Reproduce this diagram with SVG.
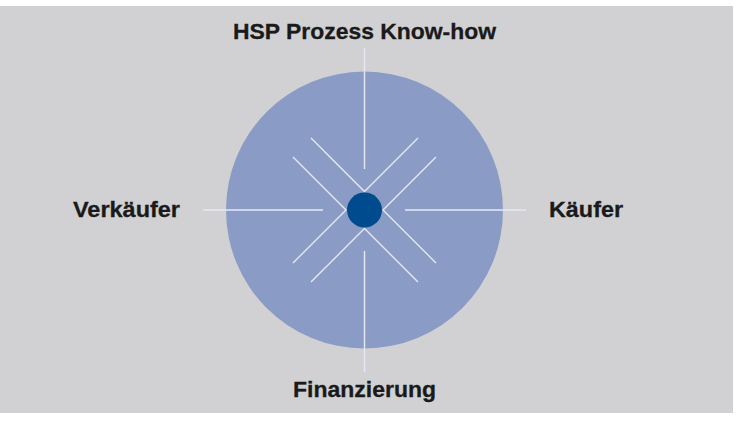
<svg xmlns="http://www.w3.org/2000/svg" width="745" height="425" viewBox="0 0 745 425">
<style>
.lbl{font-family:"Liberation Sans",Arial,sans-serif;font-weight:bold;font-size:21.5px;fill:#1a1a1a;stroke:#1a1a1a;stroke-width:0.3}
.ln{stroke:#e6e9f2;stroke-width:1.4;fill:none}
</style>
<rect x="0" y="0" width="745" height="425" fill="#ffffff"/>
<rect x="0" y="6" width="733" height="407" fill="#d1d1d3"/>
<g id="circle"><circle cx="364.5" cy="210" r="138.5" fill="#8a9bc6"/></g>
<g id="connectors">
<line class="ln" x1="364.5" y1="48" x2="364.5" y2="169"/>
<line class="ln" x1="364.5" y1="251" x2="364.5" y2="372"/>
<line class="ln" x1="203" y1="210" x2="323" y2="210"/>
<line class="ln" x1="405" y1="210" x2="526" y2="210"/>
<polyline class="ln" points="311,138 364.5,191.5 418,138"/>
<polyline class="ln" points="311,282 364.5,228.5 418,282"/>
<polyline class="ln" points="293,157 346,210 293,263"/>
<polyline class="ln" points="436,157 383,210 436,263"/>
</g>
<g id="center"><circle cx="364.5" cy="210" r="17.5" fill="#004b8d"/></g>
<g id="top"><text class="lbl" x="364.5" y="38.5" text-anchor="middle" textLength="263" lengthAdjust="spacingAndGlyphs">HSP Prozess Know-how</text></g>
<g id="left"><text class="lbl" x="73" y="217" textLength="107" lengthAdjust="spacingAndGlyphs">Verkäufer</text></g>
<g id="right"><text class="lbl" x="549" y="217" textLength="74" lengthAdjust="spacingAndGlyphs">Käufer</text></g>
<g id="bottom"><text class="lbl" x="293" y="397" textLength="143" lengthAdjust="spacingAndGlyphs">Finanzierung</text></g>
</svg>
